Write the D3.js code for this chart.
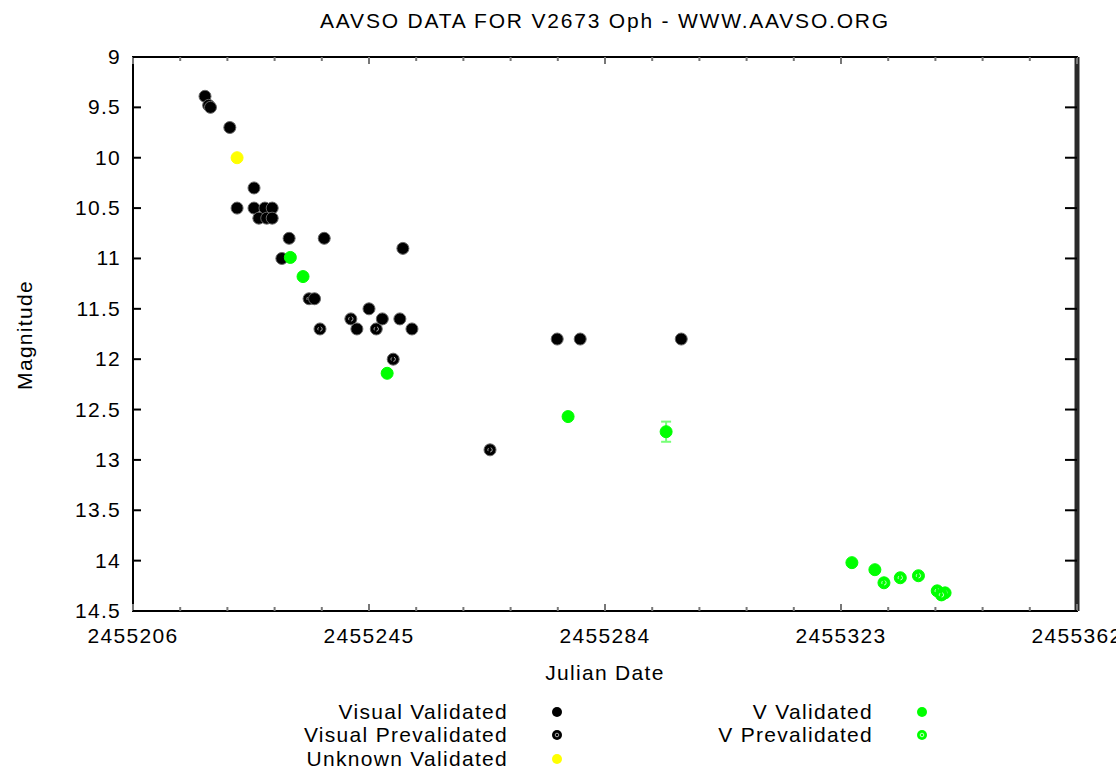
<!DOCTYPE html>
<html>
<head>
<meta charset="utf-8">
<script src="https://cdn.jsdelivr.net/npm/d3@7"></script>
<style>
  body { margin: 0; background: #fff; }
  svg text { font-family: "Liberation Sans", Arial, sans-serif; fill: #000; font-size: 21px; letter-spacing: 1.3px; }
</style>
</head>
<body>
<svg width="1116" height="769"></svg>
<script>
// observations: [julian date, magnitude]
var visualValidated = [
  [2455217.9, 9.39], [2455218.5, 9.48], [2455218.8, 9.50], [2455222.0, 9.70],
  [2455226.0, 10.30], [2455223.2, 10.50], [2455226.0, 10.50], [2455227.8, 10.50],
  [2455229.0, 10.50], [2455226.8, 10.60], [2455228.1, 10.60], [2455229.0, 10.60],
  [2455231.8, 10.80], [2455237.6, 10.80], [2455230.6, 11.00], [2455250.6, 10.90],
  [2455236.0, 11.40], [2455243.0, 11.70], [2455245.0, 11.50], [2455247.2, 11.60],
  [2455250.1, 11.60], [2455252.1, 11.70], [2455276.1, 11.80], [2455279.9, 11.80],
  [2455296.6, 11.80]
];
var visualPrevalidated = [
  [2455235.1, 11.40], [2455236.9, 11.70], [2455242.0, 11.60], [2455246.2, 11.70],
  [2455249.0, 12.00], [2455265.0, 12.90]
];
var unknownValidated = [[2455223.2, 10.00]];
var vValidated = [
  [2455232.0, 10.99], [2455234.1, 11.18], [2455248.0, 12.14], [2455277.9, 12.57],
  [2455324.8, 14.02], [2455328.6, 14.09]
];
var vPrevalidated = [
  [2455294.1, 12.72, 0.1], [2455330.1, 14.22], [2455332.8, 14.17], [2455335.8, 14.15],
  [2455338.9, 14.30], [2455340.2, 14.32], [2455339.6, 14.34]
];
var xTicks = [2455206, 2455245, 2455284, 2455323, 2455362];
var yTicks = [9, 9.5, 10, 10.5, 11, 11.5, 12, 12.5, 13, 13.5, 14, 14.5];

var svg = d3.select('svg'),
  pLeft = 133, pRight = 1077, pTop = 57, pBottom = 611;

var x = d3.scaleLinear().domain([2455206, 2455362]).range([pLeft, pRight]);
var y = d3.scaleLinear().domain([9, 14.5]).range([pTop, pBottom]);

// frame
svg.append('rect')
  .attr('x', pLeft).attr('y', pTop)
  .attr('width', pRight - pLeft).attr('height', pBottom - pTop)
  .attr('fill', 'none').attr('stroke', '#000').attr('stroke-width', 2);
svg.append('line')
  .attr('x1', pRight).attr('x2', pRight).attr('y1', pTop).attr('y2', pBottom)
  .attr('stroke', '#2a2a2a').attr('stroke-width', 5);

// minor x ticks (every 7.8 days)
var minor = d3.range(0, 21).map(function(i) { return 2455206 + i * 7.8; });
svg.append('g').selectAll('line').data(minor).enter().append('line')
  .attr('x1', function(d) { return x(d); }).attr('x2', function(d) { return x(d); })
  .attr('y1', pBottom).attr('y2', function(d, i) { return pBottom - (i % 5 === 0 ? 7 : 4); })
  .attr('stroke', '#777').attr('stroke-width', 2);
svg.append('g').selectAll('line').data(minor).enter().append('line')
  .attr('x1', function(d) { return x(d); }).attr('x2', function(d) { return x(d); })
  .attr('y1', pTop).attr('y2', function(d, i) { return pTop + (i % 5 === 0 ? 7 : 4); })
  .attr('stroke', '#777').attr('stroke-width', 2);

// y ticks both sides
svg.append('g').selectAll('line').data(yTicks).enter().append('line')
  .attr('x1', pLeft).attr('x2', pLeft + 8)
  .attr('y1', function(d) { return y(d); }).attr('y2', function(d) { return y(d); })
  .attr('stroke', '#000').attr('stroke-width', 2);
svg.append('g').selectAll('line').data(yTicks).enter().append('line')
  .attr('x1', pRight - 12).attr('x2', pRight)
  .attr('y1', function(d) { return y(d); }).attr('y2', function(d) { return y(d); })
  .attr('stroke', '#000').attr('stroke-width', 2);

// tick labels
svg.append('g').selectAll('text').data(yTicks).enter().append('text')
  .attr('x', 121).attr('y', function(d) { return y(d) + 7; })
  .attr('text-anchor', 'end')
  .text(function(d) { return d; });
svg.append('g').selectAll('text').data(xTicks).enter().append('text')
  .attr('x', function(d) { return x(d); }).attr('y', 643)
  .attr('text-anchor', 'middle')
  .text(function(d) { return d; });

// titles
svg.append('text').attr('x', 605).attr('y', 28).attr('text-anchor', 'middle')
  .style('letter-spacing', '1.8px')
  .text('AAVSO DATA FOR V2673 Oph - WWW.AAVSO.ORG');
svg.append('text').attr('x', 605).attr('y', 680).attr('text-anchor', 'middle')
  .text('Julian Date');
svg.append('text').attr('transform', 'translate(32,335) rotate(-90)')
  .attr('text-anchor', 'middle').text('Magnitude');

// markers
function validated(g, cx, cy, color) {
  g.append('circle').attr('cx', cx).attr('cy', cy).attr('r', 6)
    .attr('fill', color).attr('stroke', color === '#000' ? '#666' : color)
    .attr('stroke-width', 1);
}
function prevalidated(g, cx, cy, color) {
  g.append('circle').attr('cx', cx).attr('cy', cy).attr('r', 6)
    .attr('fill', color).attr('stroke', color === '#000' ? '#666' : color)
    .attr('stroke-width', 1);
  g.append('circle').attr('cx', cx).attr('cy', cy).attr('r', 2.2)
    .attr('fill', 'none').attr('stroke', color === '#000' ? '#aaa' : '#c8ffc8')
    .attr('stroke-width', 1).attr('stroke-dasharray', '3,2');
}

var pts = svg.append('g');
visualPrevalidated.forEach(function(d) { prevalidated(pts, x(d[0]), y(d[1]), '#000'); });
visualValidated.forEach(function(d) { validated(pts, x(d[0]), y(d[1]), '#000'); });
unknownValidated.forEach(function(d) { validated(pts, x(d[0]), y(d[1]), '#ffff00'); });
vValidated.forEach(function(d) { validated(pts, x(d[0]), y(d[1]), '#00ff00'); });
vPrevalidated.forEach(function(d) {
  if (d[2]) {
    pts.append('line').attr('x1', x(d[0])).attr('x2', x(d[0]))
      .attr('y1', y(d[1] - d[2])).attr('y2', y(d[1] + d[2]))
      .attr('stroke', '#7f7').attr('stroke-width', 2);
    [d[1] - d[2], d[1] + d[2]].forEach(function(v) {
      pts.append('line').attr('x1', x(d[0]) - 5).attr('x2', x(d[0]) + 5)
        .attr('y1', y(v)).attr('y2', y(v))
        .attr('stroke', '#7f7').attr('stroke-width', 2);
    });
    validated(pts, x(d[0]), y(d[1]), '#00ff00');
  } else {
    prevalidated(pts, x(d[0]), y(d[1]), '#00ff00');
  }
});

// legend
var legend = [
  { name: 'Visual Validated', tx: 508, mx: 557, ly: 712, color: '#000', pre: false },
  { name: 'Visual Prevalidated', tx: 508, mx: 557, ly: 735, color: '#000', pre: true },
  { name: 'Unknown Validated', tx: 508, mx: 557, ly: 759, color: '#ffff00', pre: false },
  { name: 'V Validated', tx: 873, mx: 922, ly: 712, color: '#00ff00', pre: false },
  { name: 'V Prevalidated', tx: 873, mx: 922, ly: 735, color: '#00ff00', pre: true }
];
var lg = svg.append('g');
legend.forEach(function(d) {
  lg.append('text').attr('x', d.tx).attr('y', d.ly + 7).attr('text-anchor', 'end')
    .text(d.name);
  lg.append('circle').attr('cx', d.mx).attr('cy', d.ly).attr('r', 5).attr('fill', d.color);
  if (d.pre) {
    lg.append('circle').attr('cx', d.mx).attr('cy', d.ly).attr('r', 1.8).attr('fill', 'none')
      .attr('stroke', d.color === '#000' ? '#aaa' : '#c8ffc8').attr('stroke-width', 1);
  }
});
</script>
</body>
</html>
